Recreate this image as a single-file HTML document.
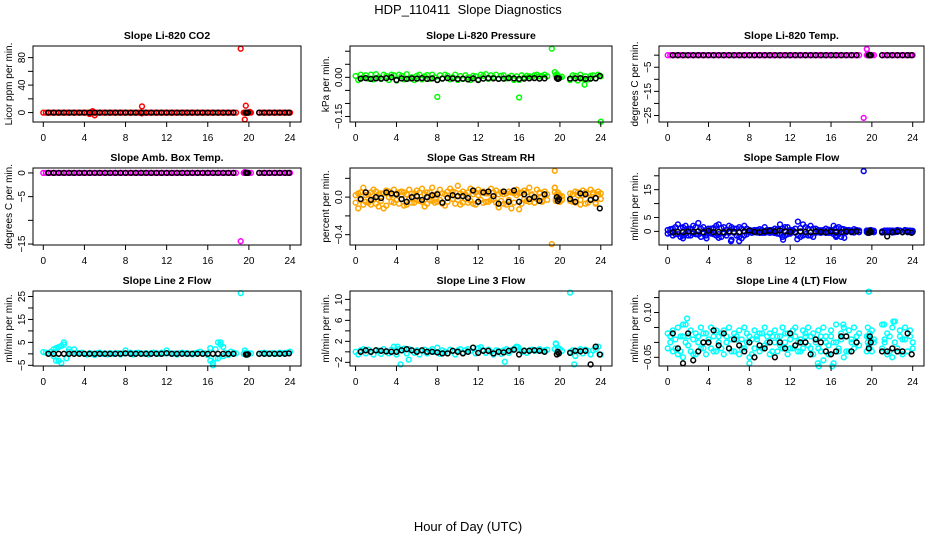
<!DOCTYPE html>
<html><head><meta charset="utf-8"><style>
html,body{margin:0;padding:0;background:#fff}
svg{display:block;font-family:"Liberation Sans",Arial,sans-serif}
</style></head><body>
<svg id="chart" width="936" height="540" viewBox="0 0 936 540">
<text x="468" y="14" text-anchor="middle" font-size="13">HDP_110411&#160; Slope Diagnostics</text>
<text x="468" y="531" text-anchor="middle" font-size="13">Hour of Day (UTC)</text>
</svg>
<script>
// shared time stamps (hours)
const tColor=[0,.25,.5,.75,1,1.25,1.5,1.75,2,2.25,2.5,2.75,3,3.25,3.5,3.75,4,4.25,4.5,4.75,5,5.25,5.5,5.75,6,6.25,6.5,6.75,7,7.25,7.5,7.75,8,8.25,8.5,8.75,9,9.25,9.5,9.75,10,10.25,10.5,10.75,11,11.25,11.5,11.75,12,12.25,12.5,12.75,13,13.25,13.5,13.75,14,14.25,14.5,14.75,15,15.25,15.5,15.75,16,16.25,16.5,16.75,17,17.25,17.5,17.75,18,18.25,18.5,18.75,19.5,19.6,19.7,19.8,19.9,20,20.2,21,21.25,21.5,21.75,22,22.25,22.5,22.75,23,23.25,23.5,23.75,24];
const tBlack=[0.5,1,1.5,2,2.5,3,3.5,4,4.5,5,5.5,6,6.5,7,7.5,8,8.5,9,9.5,10,10.5,11,11.5,12,12.5,13,13.5,14,14.5,15,15.5,16,16.5,17,17.5,18,18.5,19.7,19.8,19.9,21,21.5,22,22.5,23,23.5,23.9];
const xTicks=[0,4,8,12,16,20,24];
const colorFlat=[0,0,0,0,0,0,0,0,0,0,0,0,0,0,0,0,0,0,0,0,0,0,0,0,0,0,0,0,0,0,0,0,0,0,0,0,0,0,0,0,0,0,0,0,0,0,0,0,0,0,0,0,0,0,0,0,0,0,0,0,0,0,0,0,0,0,0,0,0,0,0,0,0,0,0,0,0,0,0,0,0,0,0,0,0,0,0,0,0,0,0,0,0,0,0,0];
const blackFlat=[0,0,0,0,0,0,0,0,0,0,0,0,0,0,0,0,0,0,0,0,0,0,0,0,0,0,0,0,0,0,0,0,0,0,0,0,0,0,0,0,0,0,0,0,0,0,0];
// CO2
const co2OutT=[19.2,9.6,19.7,19.6,19.75,4.5,5.0,4.8,9.6,20.1];
const co2OutV=[93,9,10,-10,0,-2,-4,2,-1,1];
// Pressure
const presColor=[0.005,-0.01,0.01,0,0.008,-0.005,0.01,-0.008,0.012,0,-0.006,0.01,0.005,-0.01,0.01,0.008,-0.012,0.01,0.005,-0.008,0.012,-0.005,0,-0.01,0.006,0.01,-0.008,0.004,0.009,-0.006,0.01,0,-0.01,0.008,-0.004,0.01,0.006,-0.008,0,0.01,-0.01,0.005,-0.006,0.008,0,-0.01,0.006,0.004,-0.008,0.01,0.006,0.012,-0.006,0.008,0,0.01,-0.005,0.006,0.008,-0.004,0,0.006,-0.01,0.004,-0.01,0.008,0,0.006,0.004,0,0.008,0.01,0.004,0.006,0.01,0.004,0.02,0.008,0,-0.004,0.004,0,0.002,-0.01,0.008,0.006,-0.012,0.01,-0.005,0.004,-0.008,0.006,0.008,-0.004,0.01,0.004];
const presBlack=[-0.005,-0.003,-0.006,-0.004,-0.005,-0.003,0,-0.01,-0.004,-0.006,-0.004,-0.005,-0.003,-0.006,-0.004,-0.01,-0.005,-0.003,-0.004,-0.006,-0.005,-0.008,-0.004,-0.01,-0.005,-0.003,-0.004,-0.006,-0.005,-0.003,-0.004,-0.006,-0.005,-0.004,-0.003,-0.005,-0.004,-0.003,-0.006,-0.004,-0.005,-0.004,-0.003,-0.006,-0.005,-0.004,0.005];
const presOutT=[8,16,19.2,24,22.4,19.7];
const presOutV=[-0.075,-0.077,0.11,-0.17,-0.028,0.012];
// Li-820 temp
const tempOutT=[19.2,19.5,19.6];
const tempOutV=[-26,2.5,0.6];
// Amb box temp
const ambOutT=[19.2,19.6];
const ambOutV=[-14.4,0.2];
// RH
const rhColorA=[0.02,-0.12,0.05,0.1,-0.05,0.03,-0.08,0.08,0.06,-0.1,0.04,-0.12,0.07,0.0,-0.05,0.08,-0.03,0.05,0.06,-0.09,0.03,0.08,-0.06,0.04,0.07,-0.04,0.09,-0.1,0.05,-0.03,0.1,0.02,-0.05,0.08,0.04,-0.09,0.06,0.09,-0.02,0.05,0.12,-0.08,0.06,0.03,-0.06,0.09,-0.07,0.05,0.08,-0.03,0.06,-0.05,0.04,0.09,-0.02,0.07,-0.11,0.05,0.03,-0.08,0.06,-0.12,0.04,0.08,-0.13,0.05,0.07,-0.04,0.1,0.02,-0.06,0.08,0.04,-0.05,0.06,0.03,0.1,-0.02,0.03,0.05,-0.05,0.02,-0.03,0.04,-0.05,0.06,0.02,-0.08,0.07,0.05,-0.06,0.08,0.03,-0.07,0.06,0.04];
const rhColorB=[-0.06,0.04,-0.03,-0.08,0.02,-0.06,0.05,-0.02,-0.07,0.03,-0.04,0.04,-0.09,0.06,0.02,-0.06,0.04,-0.07,0.02,0.05,-0.08,-0.02,0.04,-0.06,-0.03,0.05,-0.05,0.03,-0.07,0.05,-0.04,-0.06,0.04,-0.03,-0.07,0.03,-0.05,0.02,0.06,-0.07,-0.03,0.04,-0.06,-0.02,0.05,-0.04,0.03,-0.08,0.02,0.05,-0.06,0.04,-0.05,-0.03,0.05,-0.06,0.03,-0.04,-0.07,0.04,-0.03,0.05,-0.06,0.02,0.04,-0.07,-0.02,0.05,-0.05,0.03,-0.06,-0.02,0.05,-0.04,0.02,-0.03,0.05,-0.04,0.0,-0.02,0.03,-0.05,0.01,-0.04,0.03,-0.06,0.05,-0.03,0.02,-0.07,0.04,-0.02,0.05,-0.06,0.03,-0.02];
const rhBlack=[-0.02,0.05,-0.03,0,-0.01,0.05,0.04,0.03,-0.02,-0.05,0,0.01,-0.03,0,0.02,0.03,-0.06,-0.01,0.02,0.01,0.01,-0.01,0.07,-0.05,0.05,0.06,0.01,-0.07,0.06,-0.05,0.07,-0.05,0.03,-0.02,0,-0.04,0.03,0,-0.04,-0.02,-0.02,-0.05,0.04,0.03,-0.03,-0.01,-0.12];
const rhOutT=[19.2,19.5,19.5];
const rhOutV=[-0.5,0.28,0.1];
// Sample flow
const flowColorA=[0.5,-0.5,1,-1,2.5,-2,1.5,2,-1.5,1,2,-1,3,-2,1.5,0.5,-0.5,1,-1,2,2.5,-2,1.5,0.5,2,-3,1,-1.5,1.5,-2.5,2,-1,0.5,0.3,-0.3,0.5,0.8,-0.5,1.5,0.5,-0.5,0.5,1,-0.8,2.5,-2,1.5,-1,0.5,0.3,1,3.5,-2,2.5,1.5,-1.5,2,-2,1,0.5,-0.5,0.5,1,-0.5,0.5,2,-1.5,1.5,-2,0.8,0.5,0.5,0.3,0.8,0.5,0.3,0.3,-0.5,0.3,-0.3,0.5,0,-0.3,0,-0.3,0.3,-0.2,0.3,-0.3,0.5,0.3,-0.2,0.5,0.3,-0.3,0.2];
const flowColorB=[-0.8,0.8,-1.5,1.5,-1,1.2,-1.5,-0.8,1,-1.5,-0.8,1.5,-1.2,1,-0.8,-1.5,1,-0.8,1.2,-1.5,-1,1.2,-0.8,-1.5,-0.5,1.5,-0.5,1,-2,1,-1.5,1,-0.3,-0.5,0.5,-0.4,-0.5,0.5,-0.5,-0.3,0.5,-0.4,-0.6,0.7,-1,1,-1.5,1.5,-0.8,0.5,-0.5,-1.5,1.2,-1.5,-1,1,-1.5,1,-0.5,-0.3,0.4,-0.3,-0.5,0.6,-0.5,-1,1.2,-1,1,-0.4,-0.3,0.4,-0.3,-0.4,0.3,-0.3,-0.3,0.2,-0.5,0.3,-0.2,0.3,0.2,-0.4,0.3,-0.3,0.3,-0.4,0.2,-0.2,0.3,-0.3,0.2,-0.3,0.3,-0.2];
const flowBlack=[-0.3,-0.2,-0.3,0,-0.2,0,-0.3,0.2,-0.3,-0.2,-0.3,0,-0.2,-0.3,0,0.3,-0.2,-0.3,0,0.2,0,0.3,0,-0.2,-0.3,0,-0.2,-0.3,0,-0.2,-0.3,0,-0.2,-0.3,0,-0.2,0,-0.5,0.2,-0.3,-0.3,-1.8,-0.3,0,-0.3,-0.2,-0.5];
const flowOutT=[19.2,1.5,6.2,7.0,11.3,12.7,5.0,3.8,16.5,17.3];
const flowOutV=[21.7,-2.5,-3.5,-3.5,-3,-2.8,-2.3,-2.5,-2,-2.3];
// Line 2
const l2Color=[0.8,0.5,0.3,1,-1,2.5,-3,3.5,5,-2,1,0.5,2,0.5,0.3,0.5,0,-0.3,0.3,0,-0.5,0.3,0.5,0,0.2,-0.2,0.3,0,0.2,0.3,-0.2,0.3,1.5,0.3,0.5,-0.3,0.3,0.5,0.2,0,0.3,-0.3,0.3,0.5,0.2,0,0.5,0.2,1.5,0.3,0,0.2,-0.3,0.2,0.5,0.2,0.3,0,-0.2,0.3,0.5,1,0.3,0.2,-0.5,2.5,-4,-2,5,4,3,0.3,-0.5,1,0.5,0.2,0,1.5,0.5,-0.5,0.3,0,0.2,0,0.3,0.5,0.2,0,0.3,0.2,0,0.5,0.3,0.3,0.5,1];
const l2OutT=[1,1.25,1.5,1.75,2,2.5,16.25,16.5,16.75,17,17.25,17.5,19.2];
const l2OutV=[2,-3,3,-4,4,2,-3,-5,2,-2,5,-1,26.5];
const l2Black=[0,0,0,0,0,0,0,0,0,0,0,0,0,0,0,0.2,0,0,0,0,0,0,0,0.3,0,0,0,0,0,0,0,0,0,0,0,0,0,-0.3,-0.3,-0.2,0,0,0,0,0,0,0.2];
// Line 3
const l3Color=[0,-0.5,0.3,0.5,-0.3,0.4,0,-0.5,0.3,0.2,-0.4,0.5,0,-0.3,0.4,1,-0.5,0.5,0.3,0.6,-0.3,0.5,0.3,-0.2,0.3,-0.5,0.2,0.4,-0.3,0.2,0.5,0,0.8,-0.4,0.3,0,-0.3,0.4,0.2,-0.5,0.3,0.5,-0.2,0.3,0.5,0.2,0.8,-0.3,0.7,0.9,0.3,-0.2,0.4,0,-0.5,0.3,0.2,-0.4,0.3,0.5,-0.2,0.3,0.6,1,0.5,0,0.3,-0.2,0.3,0.4,0.2,0.3,0.5,0.2,0.3,0.4,0.5,1.5,0,0.8,-0.3,0.5,0.2,0,0.3,-0.8,0.2,0.5,-0.3,0.4,0.2,-0.5,0.3,0.5,1,-0.5];
const l3Black=[0,0.3,0,0.3,0.2,0.1,0,0,0.3,0.5,0.3,0,0.3,0,0,-0.1,-0.3,-0.3,0.2,0,-0.3,0,0.8,-0.2,0.2,0.2,-0.3,0,-0.1,0.2,0.4,-0.5,0.2,0.2,0.3,0.2,0,-0.5,0,-0.3,-0.2,0.2,0.1,0.2,-2.4,1,-0.5];
const l3OutT=[21,4.4,5.2,14.6,21.4,19.6,4.1,15.9,21.5];
const l3OutV=[11.3,-2.4,-1.5,-1.9,-2.4,1.6,1,0.9,-0.8];
// Line 4
const l4ColorA=[0.03,0.0,0.04,-0.02,0.05,-0.03,0.02,0.06,-0.01,0.04,-0.04,0.03,0.0,0.05,-0.02,0.03,0.01,0.05,-0.03,0.04,0.02,-0.02,0.04,0.0,0.05,-0.03,0.03,0.01,0.04,-0.02,0.05,0.0,0.02,-0.04,0.04,0.01,0.03,-0.02,0.05,0.0,0.03,-0.03,0.04,0.02,-0.01,0.05,0.0,0.03,-0.02,0.04,0.05,0.0,-0.03,0.04,0.02,0.05,-0.02,0.03,0.0,0.04,-0.03,0.05,0.02,-0.01,0.04,0.0,0.06,-0.02,0.03,0.05,-0.03,0.04,0.01,0.05,0.0,0.03,0.02,0.05,-0.01,0.03,0.0,0.04,0.01,0.06,0.0,0.03,-0.03,0.05,0.07,-0.02,0.04,0.01,0.05,-0.03,0.04,0.0];
const l4ColorB=[-0.02,0.02,-0.03,0.01,-0.04,0.02,-0.05,0.0,0.02,-0.03,0.01,-0.04,0.02,-0.02,0.03,-0.04,0.0,-0.02,0.02,-0.03,0.0,0.03,-0.04,0.02,-0.02,0.01,-0.03,0.02,-0.04,0.01,-0.02,0.03,-0.05,0.01,-0.02,0.02,-0.03,0.03,-0.01,0.02,-0.04,0.02,0.0,-0.03,0.02,-0.02,0.03,-0.04,0.01,-0.02,0.02,-0.03,0.01,-0.02,0.03,-0.01,0.02,-0.04,0.01,-0.02,0.02,-0.06,0.0,-0.04,0.02,-0.07,0.0,-0.03,0.01,-0.05,0.02,-0.03,0.0,-0.02,0.02,-0.01,-0.03,0.0,0.02,-0.02,0.01,-0.03,0.0,-0.02,0.01,-0.04,0.02,-0.05,0.0,-0.03,0.02,-0.04,0.01,-0.03,0.02,-0.02];
const l4Black=[0.03,-0.02,-0.07,0.03,-0.06,-0.03,0,0,0.04,-0.01,0.03,-0.02,0.01,-0.01,-0.03,0,-0.05,-0.01,-0.02,0,-0.05,0,-0.02,0.03,-0.01,0,0,-0.04,0.01,0,-0.03,-0.04,-0.03,0.02,0.02,-0.03,0,-0.02,0.02,0,-0.03,-0.03,-0.02,-0.03,-0.03,0.03,-0.04];
const l4OutT=[19.7,1.9,1.5,8,14.8,16.1,17.2,21.2,22.1,14.7];
const l4OutV=[0.17,0.08,0.06,-0.07,-0.08,-0.08,0.06,0.06,0.07,-0.07];

const cols=[{bx:33,bw:268,x0:43.3,x24:290},{bx:350,bw:262,x0:355.6,x24:600.8},{bx:659,bw:265,x0:667.7,x24:912.7}];
const rows=[{by:46,bh:76},{by:168,bh:77},{by:291,bh:75}];
const panels=[
 {name:'co2',title:'Slope Li-820 CO2',ylab:'Licor ppm per min.',r:0,c:0,ymin:-13.7,ymax:96.9,ticks:[0,20,40,60,80],labels:['0','','40','','80'],color:'#ff0000',
  series:[[tColor,colorFlat],[co2OutT,co2OutV]],black:blackFlat},
 {name:'pressure',title:'Slope Li-820 Pressure',ylab:'kPa per min.',r:0,c:1,ymin:-0.171,ymax:0.12,ticks:[0.10,0.05,0,-0.05,-0.10,-0.15],labels:['','','0.00','','','\u22120.15'],color:'#00ff00',
  series:[[tColor,presColor],[presOutT,presOutV]],black:presBlack},
 {name:'li820-temp',title:'Slope Li-820 Temp.',ylab:'degrees C per min.',r:0,c:2,ymin:-27.7,ymax:3.8,ticks:[0,-5,-10,-15,-20,-25],labels:['','\u22125','','\u221215','','\u221225'],color:'#ff00ff',
  series:[[tColor,colorFlat],[tempOutT,tempOutV]],black:blackFlat},
 {name:'amb-box-temp',title:'Slope Amb. Box Temp.',ylab:'degrees C per min.',r:1,c:0,ymin:-15.2,ymax:1.04,ticks:[0,-5,-10,-15],labels:['0','\u22125','','\u221215'],color:'#ff00ff',
  series:[[tColor,colorFlat],[ambOutT,ambOutV]],black:blackFlat},
 {name:'gas-stream-rh',title:'Slope Gas Stream RH',ylab:'percent per min.',r:1,c:1,ymin:-0.51,ymax:0.31,ticks:[0.2,0,-0.2,-0.4],labels:['','0.0','','\u22120.4'],color:'#ffa500',
  series:[[tColor,rhColorA],[tColor,rhColorB],[rhOutT,rhOutV]],black:rhBlack},
 {name:'sample-flow',title:'Slope Sample Flow',ylab:'ml/min per min.',r:1,c:2,ymin:-4.9,ymax:22.8,ticks:[0,5,10,15,20],labels:['0','5','','15',''],color:'#0000ff',
  series:[[tColor,flowColorA],[tColor,flowColorB],[flowOutT,flowOutV]],black:flowBlack},
 {name:'line2-flow',title:'Slope Line 2 Flow',ylab:'ml/min per min.',r:2,c:0,ymin:-5.3,ymax:27.4,ticks:[-5,0,5,10,15,20,25],labels:['\u22125','','5','','15','','25'],color:'#00ffff',
  series:[[tColor,l2Color],[l2OutT,l2OutV]],black:l2Black},
 {name:'line3-flow',title:'Slope Line 3 Flow',ylab:'ml/min per min.',r:2,c:1,ymin:-2.7,ymax:11.6,ticks:[-2,0,2,4,6,8,10],labels:['\u22122','','2','','6','','10'],color:'#00ffff',
  series:[[tColor,l3Color],[l3OutT,l3OutV]],black:l3Black},
 {name:'line4-flow',title:'Slope Line 4 (LT) Flow',ylab:'ml/min per min.',r:2,c:2,ymin:-0.079,ymax:0.172,ticks:[0.15,0.10,0.05,0,-0.05],labels:['','0.10','','','\u22120.05'],color:'#00ffff',
  series:[[tColor,l4ColorA],[tColor,l4ColorB],[l4OutT,l4OutV]],black:l4Black}
];
const NS='http://www.w3.org/2000/svg';
const svg=document.getElementById('chart');
function mk(tag,attrs,parent){const e=document.createElementNS(NS,tag);for(const k in attrs)e.setAttribute(k,attrs[k]);parent.appendChild(e);return e;}
panels.forEach(p=>{
  const C=cols[p.c],R=rows[p.r];
  const xs=t=>C.x0+(t/24)*(C.x24-C.x0);
  const ys=v=>R.by+R.bh-(v-p.ymin)/(p.ymax-p.ymin)*R.bh;
  const g=mk('g',{},svg);
  
  
  const tt=mk('text',{x:C.bx+C.bw/2,y:R.by-7,'text-anchor':'middle','font-size':'10.5','font-weight':'bold'},g);
  tt.textContent=p.title;
  
  
  const yl=mk('text',{transform:`translate(${C.bx-21},${R.by+R.bh/2}) rotate(-90)`,'text-anchor':'middle','font-size':'10'},g);
  yl.textContent=p.ylab;
  
  
  const pts=mk('g',{fill:'none','stroke-width':'1.5'},g);
  
  
  p.series.forEach(s=>{
    s[0].forEach((t,i)=>{
      const v=s[1][i];
      const c=mk('circle',{cx:xs(t).toFixed(1),cy:ys(v).toFixed(1),r:'2.4',stroke:p.color},pts);
      
      
    });
  });
  tBlack.forEach((t,i)=>{
    const c=mk('circle',{cx:xs(t).toFixed(1),cy:ys(p.black[i]).toFixed(1),r:'2.4',stroke:'#000'},pts);
    
    
  });
  const box=mk('rect',{x:C.bx,y:R.by,width:C.bw,height:R.bh,fill:'none',stroke:'#000','stroke-width':'1'},g);
  
  
  const xa=mk('g',{},g);
  
  
  mk('line',{x1:xs(0),x2:xs(24),y1:R.by+R.bh,y2:R.by+R.bh,stroke:'#000'},xa);
  xTicks.forEach(t=>{
    mk('line',{x1:xs(t),x2:xs(t),y1:R.by+R.bh,y2:R.by+R.bh+5,stroke:'#000'},xa);
    const l=mk('text',{x:xs(t),y:R.by+R.bh+19,'text-anchor':'middle','font-size':'10'},xa);
    l.textContent=t;
    
    
  });
  const ya=mk('g',{},g);
  
  
  const tv=p.ticks.map(ys);
  mk('line',{x1:C.bx,x2:C.bx,y1:Math.min(...tv),y2:Math.max(...tv),stroke:'#000'},ya);
  p.ticks.forEach((v,i)=>{
    const y=ys(v);
    mk('line',{x1:C.bx-5,x2:C.bx,y1:y,y2:y,stroke:'#000'},ya);
    if(p.labels[i]){
      const l=mk('text',{transform:`translate(${C.bx-8},${y}) rotate(-90)`,'text-anchor':'middle','font-size':'10'},ya);
      l.textContent=p.labels[i];
      
      
    }
  });
});
</script>
</body></html>
